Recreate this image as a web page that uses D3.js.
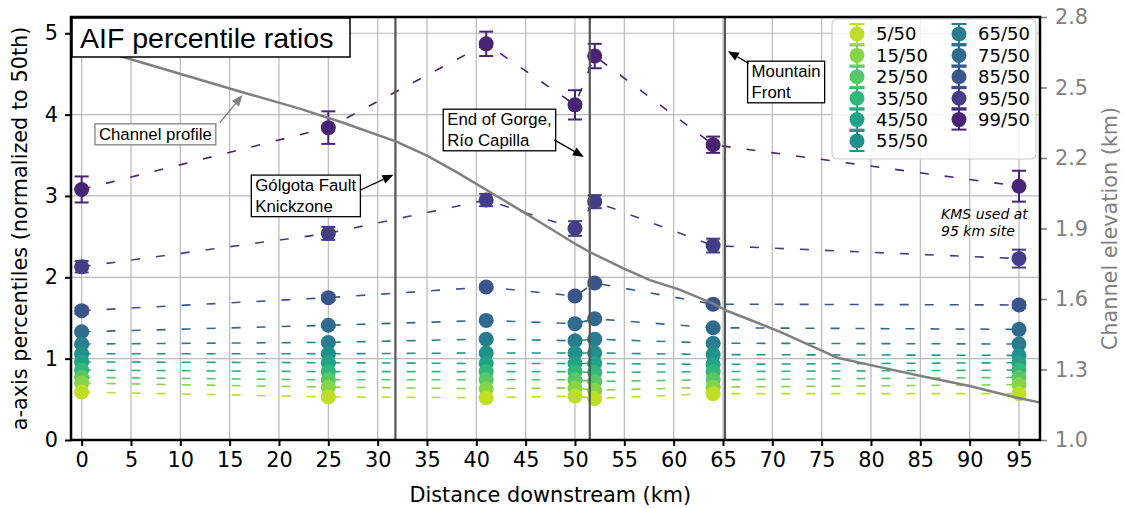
<!DOCTYPE html>
<html>
<head>
<meta charset="utf-8">
<script src="https://cdn.jsdelivr.net/npm/d3@7"></script>
<style>
    body { margin: 0; background: #fff; }
    svg text { font-family: "DejaVu Sans", sans-serif; }
</style>
</head>
<body>
<div id="chart"></div>
<script>
/* global d3 */

// sampling sites (km downstream)
var sites = [0, 25, 41, 50, 52, 64, 95];

var seriesNames = ["5/50", "15/50", "25/50", "35/50", "45/50", "55/50",
    "65/50", "75/50", "85/50", "95/50", "99/50"];

// percentile ratios at each site
var p5  = [0.59, 0.53, 0.52, 0.54, 0.51, 0.57, 0.57];
var p15 = [0.70, 0.65, 0.63, 0.64, 0.61, 0.65, 0.68];
var p25 = [0.77, 0.74, 0.74, 0.74, 0.72, 0.74, 0.77];
var p35 = [0.86, 0.84, 0.84, 0.84, 0.83, 0.84, 0.86];
var p45 = [0.96, 0.95, 0.94, 0.94, 0.94, 0.93, 0.95];
var p55 = [1.06, 1.06, 1.07, 1.07, 1.07, 1.05, 1.04];
var p65 = [1.18, 1.20, 1.24, 1.22, 1.24, 1.19, 1.18];
var p75 = [1.33, 1.41, 1.47, 1.43, 1.49, 1.38, 1.36];
var p85 = [1.59, 1.75, 1.88, 1.77, 1.93, 1.67, 1.66];
var p95 = [2.13, 2.54, 2.95, 2.60, 2.93, 2.39, 2.23];
var p99 = [3.08, 3.84, 4.87, 4.12, 4.72, 3.63, 3.12];

// error bar half widths
var e5  = [0.01, 0.01, 0.01, 0.01, 0.01, 0.01, 0.01];
var e15 = [0.01, 0.01, 0.01, 0.01, 0.01, 0.01, 0.01];
var e25 = [0.01, 0.01, 0.01, 0.01, 0.01, 0.01, 0.01];
var e35 = [0.01, 0.01, 0.01, 0.01, 0.01, 0.01, 0.01];
var e45 = [0.015, 0.015, 0.015, 0.015, 0.015, 0.015, 0.015];
var e55 = [0.015, 0.015, 0.015, 0.015, 0.015, 0.015, 0.015];
var e65 = [0.02, 0.02, 0.02, 0.02, 0.02, 0.02, 0.02];
var e75 = [0.02, 0.02, 0.02, 0.02, 0.02, 0.02, 0.02];
var e85 = [0.04, 0.03, 0.03, 0.03, 0.03, 0.03, 0.04];
var e95 = [0.07, 0.08, 0.075, 0.09, 0.08, 0.085, 0.11];
var e99 = [0.16, 0.20, 0.15, 0.18, 0.15, 0.10, 0.19];

// channel long profile
var profileKm   = [0, 4.2, 16.3, 22.1, 26.5, 31.9, 35.0, 38.0, 42.4, 47.5, 50.2, 51.5,
    54.9, 57.6, 60.6, 64.0, 65.4, 70.8, 75.0, 76.6, 80.9, 85.3, 90.0, 94.8, 97.1];
var profileElev = [2.68, 2.63, 2.48, 2.41, 2.35, 2.27, 2.21, 2.14, 2.03, 1.90, 1.83, 1.80,
    1.73, 1.68, 1.64, 1.58, 1.55, 1.46, 1.38, 1.35, 1.31, 1.27, 1.23, 1.18, 1.16];

// features along the channel (km)
var featureKm = [31.8, 51.5, 65.2];

var xTicks = d3.range(0, 100, 5);
var yTicks = [0, 1, 2, 3, 4, 5];
var elevTicks = [1.0, 1.3, 1.6, 1.9, 2.2, 2.5, 2.8];

var annotations = [
    {lines: ["Channel profile"], at: [1.75, 3.69], tail: [14.0, 3.90], tip: [16.3, 4.24], color: "#808080"},
    {lines: ["Gólgota Fault", "Knickzone"], at: [17.6, 3.06], tail: [28.2, 3.07], tip: [31.6, 3.26], color: "#000"},
    {lines: ["End of Gorge,", "Río Capilla"], at: [37.05, 3.87], tail: [47.9, 3.69], tip: [50.9, 3.48], color: "#000"},
    {lines: ["Mountain", "Front"], at: [67.9, 4.46], tail: [67.6, 4.63], tip: [65.5, 4.78], color: "#000"}
];

function drawChart(wrappingDivId) {
    var margin = {top: 17, right: 85, bottom: 68, left: 71},
            width = 1125 - margin.left - margin.right,
            height = 508 - margin.top - margin.bottom;

    var tickFont = 20.8;

    var x = d3.scaleLinear().domain([-1.08, 97.13]).range([0, width]);
    var y = d3.scaleLinear().domain([0, 5.2]).range([height, 0]);
    var yElev = d3.scaleLinear().domain([1.0, 2.8]).range([height, 0]);

    var svg = d3.select(wrappingDivId)
            .append("svg")
            .attr("width", 1125)
            .attr("height", 508);

    var canvas = svg.append("g")
            .attr("transform", "translate(" + margin.left + "," + margin.top + ")");

    canvas.append("clipPath").attr("id", "plotclip")
            .append("rect").attr("width", width).attr("height", height);

    // grid
    var grid = canvas.append("g").attr("id", "grid");
    grid.selectAll(".vgrid").data(xTicks).enter().append("line")
            .attr("x1", function (d) { return x(d); })
            .attr("x2", function (d) { return x(d); })
            .attr("y1", 0).attr("y2", height)
            .style("stroke", "#b9b9b9").style("stroke-width", "1.2px");
    grid.selectAll(".hgrid").data(yTicks).enter().append("line")
            .attr("y1", function (d) { return y(d); })
            .attr("y2", function (d) { return y(d); })
            .attr("x1", 0).attr("x2", width)
            .style("stroke", "#b9b9b9").style("stroke-width", "1.2px");

    var allValues = [p5, p15, p25, p35, p45, p55, p65, p75, p85, p95, p99];
    var allErrors = [e5, e15, e25, e35, e45, e55, e65, e75, e85, e95, e99];
    var series = seriesNames.map(function (name, i) {
        return {
            name: name,
            color: d3.interpolateViridis(0.9 - i * 0.08),
            points: sites.map(function (s, j) {
                return {km: s, v: allValues[i][j], e: allErrors[i][j]};
            })
        };
    });

    var plot = canvas.append("g").attr("clip-path", "url(#plotclip)");

    var line = d3.line()
            .x(function (d) { return x(d.km); })
            .y(function (d) { return y(d.v); });

    // high percentiles first so the low ones sit on top
    var groups = plot.selectAll(".series")
            .data(series.slice().reverse())
            .enter()
            .append("g")
            .attr("class", "series");

    groups.append("path")
            .attr("d", function (d) { return line(d.points); })
            .style("fill", "none")
            .style("stroke", function (d) { return d.color; })
            .style("stroke-width", "1.6px")
            .style("stroke-dasharray", "9,16");

    var bars = groups.selectAll(".err")
            .data(function (d) {
                return d.points.map(function (p) { return {p: p, color: d.color}; });
            })
            .enter()
            .append("g")
            .style("stroke", function (d) { return d.color; })
            .style("stroke-width", "2px");
    bars.append("line")
            .attr("x1", function (d) { return x(d.p.km); })
            .attr("x2", function (d) { return x(d.p.km); })
            .attr("y1", function (d) { return y(d.p.v - d.p.e); })
            .attr("y2", function (d) { return y(d.p.v + d.p.e); });
    [-1, 1].forEach(function (s) {
        bars.append("line")
                .attr("x1", function (d) { return x(d.p.km) - 7; })
                .attr("x2", function (d) { return x(d.p.km) + 7; })
                .attr("y1", function (d) { return y(d.p.v + s * d.p.e); })
                .attr("y2", function (d) { return y(d.p.v + s * d.p.e); });
    });

    groups.selectAll("circle")
            .data(function (d) {
                return d.points.map(function (p) { return {p: p, color: d.color}; });
            })
            .enter()
            .append("circle")
            .attr("cx", function (d) { return x(d.p.km); })
            .attr("cy", function (d) { return y(d.p.v); })
            .attr("r", 7.5)
            .style("fill", function (d) { return d.color; });

    // feature lines
    plot.selectAll(".feature").data(featureKm).enter().append("line")
            .attr("x1", function (d) { return x(d); })
            .attr("x2", function (d) { return x(d); })
            .attr("y1", 0).attr("y2", height)
            .style("stroke", "#555").style("stroke-width", "2.2px");

    // channel profile on the elevation axis
    var profile = profileKm.map(function (k, i) { return {km: k, elev: profileElev[i]}; });
    plot.append("path")
            .attr("d", d3.line()
                    .x(function (d) { return x(d.km); })
                    .y(function (d) { return yElev(d.elev); })(profile))
            .style("fill", "none")
            .style("stroke", "#808080")
            .style("stroke-width", "2.5px");

    // annotations
    annotations.forEach(function (a) {
        var g = canvas.append("g");
        var tx = x(a.at[0]), ty = y(a.at[1]);
        var t = g.append("text")
                .attr("x", tx).attr("y", ty)
                .style("font-family", "'Liberation Sans', Arial, sans-serif")
                .style("font-size", "16.8px");
        a.lines.forEach(function (l, i) {
            t.append("tspan").attr("x", tx).attr("dy", i === 0 ? 0 : 20.6).text(l);
        });
        var bb = t.node().getBBox();
        g.insert("rect", "text")
                .attr("x", bb.x - 4).attr("y", bb.y - 1)
                .attr("width", bb.width + 8).attr("height", bb.height + 2)
                .style("fill", "#fff")
                .style("stroke", a.color)
                .style("stroke-width", "1.3px");
        var x1 = x(a.tail[0]), y1 = y(a.tail[1]), x2 = x(a.tip[0]), y2 = y(a.tip[1]);
        var ang = Math.atan2(y2 - y1, x2 - x1);
        var hl = 11, hw = 4.5;
        var bx = x2 - hl * Math.cos(ang), by = y2 - hl * Math.sin(ang);
        g.append("line")
                .attr("x1", x1).attr("y1", y1).attr("x2", bx).attr("y2", by)
                .style("stroke", a.color).style("stroke-width", "1.3px");
        g.append("path")
                .attr("d", "M" + x2 + "," + y2 +
                        "L" + (bx + hw * Math.sin(ang)) + "," + (by - hw * Math.cos(ang)) +
                        "L" + (bx - hw * Math.sin(ang)) + "," + (by + hw * Math.cos(ang)) + "Z")
                .style("fill", a.color);
    });

    var kms = canvas.append("text")
            .attr("x", x(87.1)).attr("y", y(2.72))
            .style("font-style", "italic")
            .style("font-size", "14px");
    kms.append("tspan").attr("x", x(87.1)).text("KMS used at");
    kms.append("tspan").attr("x", x(87.1)).attr("dy", 17).text("95 km site");

    // title
    canvas.append("rect")
            .attr("x", 1).attr("y", 1).attr("width", 278).attr("height", 39)
            .style("fill", "#fff").style("stroke", "#000").style("stroke-width", "1.5px");
    canvas.append("text")
            .attr("x", 9).attr("y", 31)
            .style("font-family", "'Liberation Sans', Arial, sans-serif")
            .style("font-size", "28.5px")
            .text("AIF percentile ratios");

    // legend
    var lg = canvas.append("g").attr("transform", "translate(" + (width - 208) + ",2)");
    lg.append("rect")
            .attr("width", 204).attr("height", 140).attr("rx", 5)
            .style("fill", "#fff").style("fill-opacity", 0.8)
            .style("stroke", "#cccccc").style("stroke-width", "1.2px");
    var items = lg.selectAll(".item").data(series).enter().append("g")
            .attr("transform", function (d, i) {
                var col = i < 6 ? 0 : 1, row = i < 6 ? i : i - 6;
                return "translate(" + (25 + col * 102) + "," + (15 + row * 21.4) + ")";
            });
    items.append("line").attr("y1", -10).attr("y2", 10)
            .style("stroke", function (d) { return d.color; }).style("stroke-width", "2px");
    [-10, 10].forEach(function (c) {
        items.append("line").attr("x1", -7.5).attr("x2", 7.5).attr("y1", c).attr("y2", c)
                .style("stroke", function (d) { return d.color; }).style("stroke-width", "2px");
    });
    items.append("circle").attr("r", 7.5).style("fill", function (d) { return d.color; });
    items.append("text").attr("x", 19).attr("dy", "0.36em")
            .style("font-size", "18px")
            .text(function (d) { return d.name; });

    // axes
    var xAxis = canvas.append("g")
            .attr("transform", "translate(0," + height + ")")
            .call(d3.axisBottom(x).tickValues(xTicks).tickSize(6).tickPadding(6));
    var yAxis = canvas.append("g")
            .call(d3.axisLeft(y).tickValues(yTicks).tickSize(6).tickPadding(7)
                    .tickFormat(d3.format("d")));
    var rAxis = canvas.append("g")
            .attr("transform", "translate(" + width + ",0)")
            .call(d3.axisRight(yElev).tickValues(elevTicks).tickSize(7).tickPadding(8)
                    .tickFormat(d3.format(".1f")));

    [xAxis, yAxis, rAxis].forEach(function (a) {
        a.select(".domain").remove();
        a.selectAll("text").style("font-size", tickFont + "px")
                .style("font-family", "'DejaVu Sans', sans-serif");
    });
    xAxis.selectAll("line").style("stroke-width", "2px");
    yAxis.selectAll("line").style("stroke-width", "2px");
    rAxis.selectAll("line").style("stroke", "#808080").style("stroke-width", "1.6px");
    rAxis.selectAll("text").style("fill", "#808080");

    // frame
    canvas.append("rect")
            .attr("width", width).attr("height", height)
            .style("fill", "none").style("stroke", "#000").style("stroke-width", "2.5px");

    // axis titles
    svg.append("text")
            .attr("x", margin.left + x(47.5)).attr("y", 502)
            .attr("text-anchor", "middle")
            .style("font-size", tickFont + "px")
            .text("Distance downstream (km)");
    svg.append("text")
            .attr("transform", "translate(27," + (margin.top + height / 2) + ") rotate(-90)")
            .attr("text-anchor", "middle")
            .style("font-size", tickFont + "px")
            .text("a-axis percentiles (normalized to 50th)");
    svg.append("text")
            .attr("transform", "translate(1117," + (margin.top + height / 2) + ") rotate(-90)")
            .attr("text-anchor", "middle")
            .style("font-size", tickFont + "px")
            .style("fill", "#808080")
            .text("Channel elevation (km)");
}

drawChart("#chart");
</script>
</body>
</html>
